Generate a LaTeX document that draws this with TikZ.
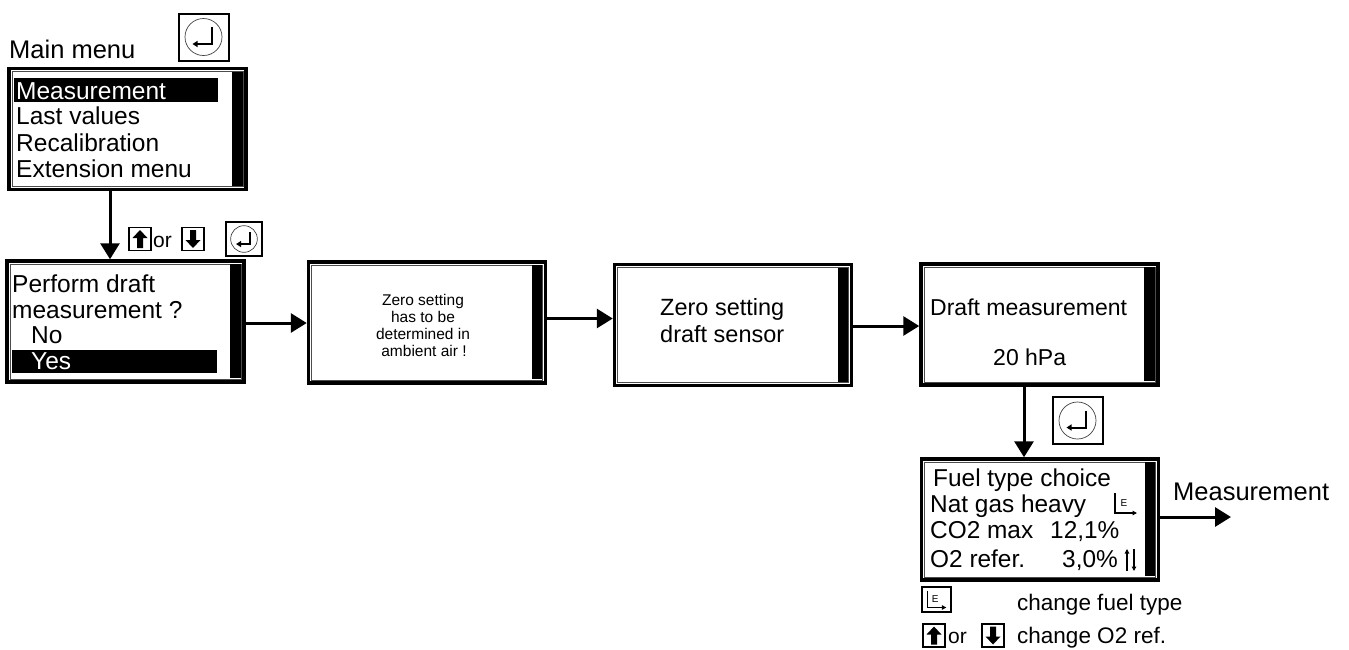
\documentclass[tikz,border=0pt]{standalone}
\usepackage{fontspec}
\setmainfont{Liberation Sans}
\usetikzlibrary{arrows.meta}
\begin{document}
\begin{tikzpicture}[x=1pt,y=-1pt,
  screen/.style={draw=black, line width=3.5pt, rectangle, inner sep=0pt, minimum width=237pt, minimum height=121pt},
  txt/.style={anchor=base west, inner sep=0pt, font=\fontsize{24.5}{28}\selectfont},
  small/.style={anchor=base, inner sep=0pt, font=\fontsize{15.5}{18}\selectfont},
  conn/.style={line width=3pt, -{Triangle[length=16pt,width=19pt]}},
  upkey/.pic={
    \draw[line width=1.4pt] (-11,-11.5) rectangle (11,11.5);
    \fill (0,-9) -- (7.5,-1) -- (3,-1) -- (3,9) -- (-3,9) -- (-3,-1) -- (-7.5,-1) -- cycle;
  },
  downkey/.pic={
    \draw[line width=1.4pt] (-11,-11.5) rectangle (11,11.5);
    \fill (0,9) -- (7.5,1) -- (3,1) -- (3,-9) -- (-3,-9) -- (-3,1) -- (-7.5,1) -- cycle;
  },
  enterkey/.pic={
    \draw[line width=2pt] (-25,-23.5) rectangle (25,23.5);
    \draw[line width=0.7pt, black!75] (0,0) circle (18.5);
    \draw[line width=2pt, -{Triangle[length=5pt,width=6pt]}] (8.5,-10) -- (8.5,7) -- (-11,7);
  },
  ekey/.pic={
    \draw[line width=1.3pt, -{Triangle[length=4.5pt,width=4.5pt]}] (-11,-10) -- (-11,10) -- (11,10);
    \node[inner sep=0pt, font=\fontsize{10}{10}\selectfont] (-E) at (-2,0) {E};
  },
]
\useasboundingbox (0,0) rectangle (1349,649);

% screens
\node[screen] (mm) at (127.5,129) {};
\node[screen] (pd) at (125.5,321.5) {};
\node[screen] (z1) at (427,322.5) {};
\node[screen] (z2) at (733,325) {};
\node[screen] (dm) at (1039.5,324.5) {};
\node[screen] (ft) at (1040,519.5) {};

\foreach \n in {mm,pd,z1,z2,dm,ft} {
  \draw[black!70, line width=0.7pt] ([xshift=4.6pt,yshift=-4.6pt]\n.north west) rectangle ([xshift=-4.6pt,yshift=4.6pt]\n.south east);
  \fill ([xshift=-15.5pt,yshift=-5pt]\n.north east) rectangle ([xshift=-5pt,yshift=5.5pt]\n.south east);
}

% highlights
\fill (14,78) rectangle (218,102);
\fill (12,350) rectangle (217,373);

% main menu
\node[txt, font=\fontsize{25.5}{28}\selectfont] (mmt) at (9,58) {Main menu};
\node[txt, text=white] (m1) at (16,99) {Measurement};
\node[txt] (m2) at (16,124.5) {Last values};
\node[txt] (m3) at (16,151) {Recalibration};
\node[txt] (m4) at (16,177) {Extension menu};
\pic at (203.5,37) {enterkey};

% perform draft
\node[txt] (p1) at (12,292) {Perform draft};
\node[txt] (p2) at (12,318) {measurement ?};
\node[txt] (p3) at (31,343) {No};
\node[txt, text=white] (p4) at (31,369) {Yes};

% zero setting 1
\node[small] (a1) at (423,305) {Zero setting};
\node[small] (a2) at (423,322) {has to be};
\node[small] (a3) at (423,339) {determined in};
\node[small] (a4) at (424,356) {ambient air !};

% zero setting 2
\node[txt, font=\fontsize{23.5}{28}\selectfont] (b1) at (660,315) {Zero setting};
\node[txt, font=\fontsize{23.5}{28}\selectfont] (b2) at (660,342) {draft sensor};

% draft measurement
\node[txt, font=\fontsize{23}{28}\selectfont] (c1) at (930,315) {Draft measurement};
\node[txt, font=\fontsize{23}{28}\selectfont] (c2) at (993,365) {20 hPa};

% fuel type
\node[txt, font=\fontsize{24.4}{28}\selectfont] (f1) at (933,486) {Fuel type choice};
\node[txt, font=\fontsize{24.4}{28}\selectfont] (f2) at (930,512) {Nat gas heavy};
\node[txt, font=\fontsize{24.4}{28}\selectfont] (f3) at (930,538) {CO2 max};
\node[txt, font=\fontsize{24.4}{28}\selectfont] (f4) at (1050,538) {12,1\%};
\node[txt, font=\fontsize{24.4}{28}\selectfont] (f5) at (930,567) {O2 refer.};
\node[txt, font=\fontsize{24.4}{28}\selectfont] (f6) at (1062,567) {3,0\%};
\pic (ek1) at (1126,503) {ekey};
\draw[line width=1.3pt, -{Triangle[length=4.5pt,width=4.5pt]}] (1127,571) -- (1127,549);
\draw[line width=1.3pt, -{Triangle[length=4.5pt,width=4.5pt]}] (1134,549) -- (1134,571);

% legend under fuel box
\draw[line width=1.4pt] (922,587) rectangle (951,612);
\pic[scale=0.85] (ek2) at (937,599) {ekey};
\node[txt, font=\fontsize{22.5}{26}\selectfont] (g1) at (1017,610) {change fuel type};
\pic at (934,635.5) {upkey};
\node[txt, font=\fontsize{21}{24}\selectfont] (g2) at (948,643) {or};
\pic at (993,635.5) {downkey};
\node[txt, font=\fontsize{22.5}{26}\selectfont] (g3) at (1017,643) {change O2 ref.};

% keys between main menu and perform
\pic at (140,239) {upkey};
\node[txt, font=\fontsize{21}{24}\selectfont] (o1) at (153,247) {or};
\pic at (193,239) {downkey};
\pic[scale=0.72] at (244,239) {enterkey};

% enter key between draft and fuel
\pic at (1077.5,420.5) {enterkey};

% measurement label
\node[txt, font=\fontsize{25.5}{28}\selectfont] (ml) at (1173,500) {Measurement};
\coordinate (mend) at (1231,517);

% connectors
\draw[conn] ([xshift=-17.5pt]mm.south) -- ([xshift=-17.5pt]mm.south |- pd.north);
\draw[conn] ([yshift=-1.5pt]pd.east) -- ([yshift=-1.5pt]pd.east -| z1.west);
\draw[conn] ([yshift=4pt]z1.east) -- ([yshift=4pt]z1.east -| z2.west);
\draw[conn] ([yshift=-1pt]z2.east) -- ([yshift=-1pt]z2.east -| dm.west);
\draw[conn] ([xshift=-15.5pt]dm.south) -- ([xshift=-15.5pt]dm.south |- ft.north);
\draw[conn] ([yshift=2.5pt]ft.east) -- ([yshift=2.5pt]ft.east -| mend);
\end{tikzpicture}
\end{document}
